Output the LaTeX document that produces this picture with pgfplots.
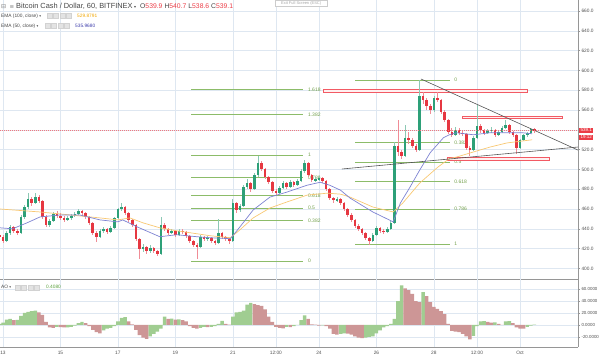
\documentclass[border=0pt]{standalone}
\usepackage{pgfplots}
\pgfplotsset{compat=1.18}
\usepackage{pgfplotstable}
\usepackage{fontspec}
\setmainfont{Liberation Sans}
\newfontfamily\sym{DejaVu Sans}
\definecolor{gridc}{RGB}{222,231,241}
\definecolor{axisc}{RGB}{150,150,150}
\definecolor{labc}{RGB}{80,80,80}
\definecolor{upb}{RGB}{45,160,120}
\definecolor{dnb}{RGB}{230,55,65}
\definecolor{upw}{RGB}{140,200,180}
\definecolor{dnw}{RGB}{240,140,150}
\definecolor{ema50}{RGB}{125,130,210}
\definecolor{ema100}{RGB}{248,200,115}
\definecolor{fibc}{RGB}{140,188,105}
\definecolor{fibt}{RGB}{115,160,75}
\definecolor{zone}{RGB}{242,90,100}
\definecolor{zonefill}{RGB}{255,240,240}
\definecolor{trend}{RGB}{85,85,85}
\definecolor{aog}{RGB}{160,205,145}
\definecolor{aor}{RGB}{205,150,150}
\definecolor{pricered}{RGB}{235,60,70}
\definecolor{txt}{RGB}{70,70,70}
\definecolor{emaot}{RGB}{240,165,0}
\definecolor{emabt}{RGB}{60,60,170}
\definecolor{aot}{RGB}{90,160,60}

\pgfplotstableread{
t o h l c
-3 434 436 430 432
0 432 434 426 428
3 428 438 427 436
6 436 444 434 442
9 442 443 436 438
12 438 440 434 436
15 436 454 435 452
18 452 464 450 462
21 462 476 460 470
24 470 472 463 466
27 466 476 465 472
30 472 474 466 468
33 468 469 450 452
36 452 454 442 444
39 444 450 442 448
42 448 457 447 455
45 455 458 451 453
48 453 456 449 451
51 451 453 447 449
54 449 453 448 451
57 451 455 449 453
60 453 457 452 455
63 455 460 454 458
66 458 459 453 456
69 456 457 450 452
72 452 453 444 446
75 446 447 434 436
78 436 438 427 432
81 432 440 431 438
84 438 442 436 440
87 440 441 435 437
90 437 443 436 441
93 441 452 440 451
96 451 461 450 460
99 460 466 458 462
102 462 463 454 456
105 456 457 447 449
108 449 450 442 444
111 444 445 428 430
114 430 431 410 420
117 420 425 417 422
120 422 423 415 418
123 418 424 416 421
126 421 422 416 418
129 418 419 413 415
132 415 452 414 444
135 444 446 438 440
138 440 441 434 436
141 436 440 435 438
144 438 439 432 434
147 434 440 433 438
150 438 440 435 437
153 437 438 431 433
156 433 434 426 428
159 428 429 422 424
162 424 426 410 422
165 422 434 421 432
168 432 433 428 430
171 430 433 428 431
174 431 432 426 428
177 428 429 424 426
180 426 450 425 436
183 436 437 430 432
186 432 433 428 430
189 430 431 425 428
192 428 470 427 466
195 466 467 456 459
198 459 465 457 463
201 463 484 462 482
204 482 490 480 486
207 486 487 477 480
210 480 496 479 494
213 494 514 492 506
216 506 508 498 500
219 500 501 490 492
222 492 493 485 487
225 487 488 476 478
228 478 480 474 476
231 476 483 475 481
234 481 488 480 486
237 486 487 480 482
240 482 489 481 487
243 487 488 482 484
246 484 490 483 488
249 488 500 487 498
252 498 510 496 506
255 506 507 492 494
258 494 495 487 489
261 489 492 487 490
264 490 493 488 491
267 491 492 486 488
270 488 489 478 480
273 480 481 469 471
276 471 472 466 469
279 469 472 467 470
282 470 471 464 466
285 466 467 458 460
288 460 461 452 454
291 454 456 447 449
294 449 450 441 443
297 443 445 438 440
300 440 441 434 436
303 436 437 429 431
306 431 432 424 428
309 428 436 427 434
312 434 443 433 441
315 441 442 436 438
318 438 440 435 437
321 437 442 436 440
324 440 448 439 446
327 446 528 445 524
330 524 550 514 518
333 518 520 510 514
336 514 545 513 532
339 532 538 526 530
342 530 532 522 524
345 524 526 518 520
348 520 590 519 574
351 574 578 566 570
354 570 572 560 564
357 564 566 556 560
360 560 574 558 572
363 572 578 568 570
366 570 571 556 558
369 558 560 548 550
372 550 551 536 538
375 538 542 533 535
378 535 543 534 540
381 540 542 535 537
384 537 540 534 536
387 536 537 520 522
390 522 524 514 520
393 520 534 519 532
396 532 565 531 544
399 544 546 537 540
402 540 541 535 537
405 537 541 536 539
408 539 543 537 540
411 540 541 533 535
414 535 540 534 538
417 538 544 537 542
420 542 550 541 545
423 545 546 536 538
426 538 539 533 535
429 535 536 516 522
432 522 531 521 530
435 530 536 529 535
438 535 538 533 537
441 537 542 536 541
444 541 542 537 539.1
}\candles

\pgfplotstableread{
t a g
-3 2 1
0 4 1
3 9 1
6 10 1
9 8 0
12 8.5 1
15 15 1
18 20 1
21 22 1
24 23 1
27 24 1
30 21 0
33 17 0
36 5 0
39 -4 0
42 -5 0
45 -3 1
48 -3.5 0
51 -4 0
54 -3.8 1
57 -3 1
60 -1 1
63 3 1
66 5 1
69 3 0
72 -2 0
75 -8 0
78 -12 0
81 -14 0
84 -9 1
87 -6 1
90 -5 1
93 -2 1
96 6 1
99 12 1
102 13 1
105 6 0
108 1 0
111 -8 0
114 -17 0
117 -21 0
120 -23 0
123 -19 1
126 -15 1
129 -11 1
132 -6 1
135 14 1
138 10 0
141 10.5 1
144 9 0
147 9.5 1
150 8 0
153 6 0
156 -2 0
159 -5 0
162 -6 0
165 -5 1
168 -3 1
171 -3.5 0
174 -3 1
177 -2 1
180 2 1
183 7 1
186 2 0
189 0.5 0
192 14 1
195 21 1
198 22 1
201 24 1
204 34 1
207 37 1
210 35 0
213 33 0
216 32 0
219 26 0
222 14 0
225 5 0
228 -3 0
231 -5 0
234 -5.5 0
237 -3 1
240 -3.5 0
243 -2 1
246 0 1
249 8 1
252 16 1
255 10 0
258 1 0
261 0.5 0
264 -1 0
267 -0.5 1
270 -2 0
273 -6 0
276 -15 0
279 -16 0
282 -15 1
285 -14 1
288 -14.5 0
291 -16 0
294 -19 0
297 -21 0
300 -22 0
303 -21 1
306 -20 1
309 -19 1
312 -14 1
315 -9 1
318 -4 1
321 -2 1
324 2 1
327 10 1
330 40 1
333 66 1
336 61 0
339 58 0
342 52 0
345 40 0
348 38 0
351 55 1
354 48 0
357 38 0
360 30 0
363 27 0
366 23 0
369 18 0
372 2 0
375 -10 0
378 -11 0
381 -12 0
384 -15 0
387 -19 0
390 -24 0
393 -18 1
396 -2 1
399 6 1
402 6.5 1
405 5 0
408 4 0
411 4.2 1
414 2 0
417 0 0
420 6 1
423 6.5 1
426 3 0
429 -4 0
432 -6 0
435 -6.2 0
438 -3 1
441 -1 1
444 0.4 1
}\aodata

\pgfplotstableread{
t p
-2.5 460
31 457
56 454
81 451
96 449
106 451
117 446
131 441
145 438
162 435
173 433
190 431
198 439
209 451
223 461
237 467
254 474
271 476
282 475
290 472
309 462
326 457
334 466
348 486
363 502
373 511
379 512.5
393 517.6
407 522.6
421 526.7
434 528.7
442 529.9
}\emaH

\pgfplotstableread{
t p
-2.5 441
8 440
20 446
31 452
48 454
64 454
81 449
96 447
100 449
112 442
131 432
145 434
162 432
173 431
190 430
198 442
209 459
223 472
237 477
254 484
265 487
273 484
282 479
290 471
309 457
326 447
332 466
340 482
348 499
357 517
368 532
373 535
379 537
393 535
407 537
421 537
434 537
442 536
}\emaF

\pgfplotsset{fibl/.style={fibc, line width=0.6pt, forget plot},
  zonel/.style={draw=zone, fill=zonefill, line width=0.6pt, forget plot},
  candle/.style={draw=none, mark=none, forget plot}}
\tikzset{fibn/.style={anchor=west, font=\fontsize{5}{6}\selectfont, text=fibt, inner sep=0.5pt},
  icon/.style={fill=gray!22, draw=gray!35, line width=0.3pt}}

\begin{document}
\begin{tikzpicture}[x=1pt,y=1pt]
\useasboundingbox (0,0) rectangle (600,358);

\begin{axis}[
  at={(0pt,79pt)}, anchor=south west, scale only axis,
  width=578pt, height=279pt,
  xmin=-2.5, xmax=480.4, ymin=389.3, ymax=671.1,
  axis x line*=bottom, axis y line*=right,
  axis line style={draw=axisc, line width=0.6pt, -},
  xtick={0,48,96,144,192,228,264,312,360,396,432}, xticklabels={},
  x tick style={draw=none},
  ytick={400,420,...,660},
  yticklabels={400.0,420.0,440.0,460.0,480.0,500.0,520.0,,560.0,580.0,600.0,620.0,640.0,660.0},
  y tick style={draw=axisc, line width=0.4pt},
  tick align=outside, major tick length=2pt,
  grid=major, grid style={draw=gridc, line width=0.5pt},
  yticklabel style={font=\fontsize{4.8}{6}\selectfont, text=labc, xshift=-2pt},
]
% left Fibonacci retracement
\addplot[fibl] coordinates {(157.1,407.5) (250.6,407.5)};
\addplot[fibl] coordinates {(157.1,448.4) (250.6,448.4)};
\addplot[fibl] coordinates {(157.1,461.0) (250.6,461.0)};
\addplot[fibl] coordinates {(157.1,473.6) (250.6,473.6)};
\addplot[fibl] coordinates {(157.1,491.6) (250.6,491.6)};
\addplot[fibl] coordinates {(157.1,514.5) (250.6,514.5)};
\addplot[fibl] coordinates {(157.1,555.4) (250.6,555.4)};
\addplot[fibl] coordinates {(157.1,580.6) (250.6,580.6)};
\node[fibn] at (axis cs:254.3,407.5) {0};
\node[fibn] at (axis cs:254.3,448.4) {0.382};
\node[fibn] at (axis cs:254.3,461.0) {0.5};
\node[fibn] at (axis cs:254.3,473.6) {0.618};
\node[fibn] at (axis cs:254.3,491.6) {0.786};
\node[fibn] at (axis cs:254.3,514.5) {1};
\node[fibn] at (axis cs:254.3,555.4) {1.382};
\node[fibn] at (axis cs:254.3,580.6) {1.618};
% right Fibonacci retracement
\addplot[fibl] coordinates {(294.1,590.3) (373.4,590.3)};
\addplot[fibl] coordinates {(294.1,527.0) (373.4,527.0)};
\addplot[fibl] coordinates {(294.1,507.5) (373.4,507.5)};
\addplot[fibl] coordinates {(294.1,487.9) (373.4,487.9)};
\addplot[fibl] coordinates {(294.1,460.1) (373.4,460.1)};
\addplot[fibl] coordinates {(294.1,424.6) (373.4,424.6)};
\node[fibn] at (axis cs:376.5,590.3) {0};
\node[fibn] at (axis cs:376.5,527.0) {0.382};
\node[fibn] at (axis cs:376.5,507.5) {0.5};
\node[fibn] at (axis cs:376.5,487.9) {0.618};
\node[fibn] at (axis cs:376.5,460.1) {0.786};
\node[fibn] at (axis cs:376.5,424.6) {1};
% zones
\addplot[zonel] coordinates {(267.3,577.9) (437.8,577.9) (437.8,580.9) (267.3,580.9)} -- cycle;
\addplot[zonel] coordinates {(383.5,551.2) (467.6,551.2) (467.6,554.0) (383.5,554.0)} -- cycle;
\addplot[zonel] coordinates {(371.0,509.5) (456.1,509.5) (456.1,512.6) (371.0,512.6)} -- cycle;
% candles: wicks
\addplot[candle,
  restrict expr to domain={\thisrow{c}-\thisrow{o}}{0:1000},
  error bars/.cd, y dir=both, y explicit, error mark=none,
  error bar style={draw=upw, line width=0.7pt}]
  table[x=t, y expr={(\thisrow{h}+\thisrow{l})/2}, y error expr={(\thisrow{h}-\thisrow{l})/2}]{\candles};
\addplot[candle,
  restrict expr to domain={\thisrow{c}-\thisrow{o}}{-1000:0},
  error bars/.cd, y dir=both, y explicit, error mark=none,
  error bar style={draw=dnw, line width=0.7pt}]
  table[x=t, y expr={(\thisrow{h}+\thisrow{l})/2}, y error expr={(\thisrow{h}-\thisrow{l})/2}]{\candles};
% candles: bodies
\addplot[candle,
  restrict expr to domain={\thisrow{c}-\thisrow{o}}{0:1000},
  error bars/.cd, y dir=both, y explicit, error mark=none,
  error bar style={draw=upb, line width=2.6pt}]
  table[x=t, y expr={(\thisrow{o}+\thisrow{c})/2}, y error expr={abs(\thisrow{c}-\thisrow{o})/2}]{\candles};
\addplot[candle,
  restrict expr to domain={\thisrow{c}-\thisrow{o}}{-1000:0},
  error bars/.cd, y dir=both, y explicit, error mark=none,
  error bar style={draw=dnb, line width=2.6pt}]
  table[x=t, y expr={(\thisrow{o}+\thisrow{c})/2}, y error expr={abs(\thisrow{c}-\thisrow{o})/2}]{\candles};
% EMAs
\addplot[ema100, line width=0.7pt] table[x=t, y=p]{\emaH};
\addplot[ema50, line width=0.7pt] table[x=t, y=p]{\emaF};
% trend lines
\addplot[trend, line width=0.6pt] coordinates {(349.2,591.3) (480.4,519.5)};
\addplot[trend, line width=0.6pt] coordinates {(283.2,500.4) (480.4,522.6)};
% last price line
\addplot[pricered!70, line width=0.5pt, dash pattern=on 1pt off 1pt] coordinates {(-2.5,539.1) (480.4,539.1)};
\end{axis}

\begin{axis}[
  at={(0pt,11pt)}, anchor=south west, scale only axis,
  width=578pt, height=68pt,
  xmin=-2.5, xmax=480.4, ymin=-36.7, ymax=76.7,
  axis x line*=bottom, axis y line*=right,
  axis line style={draw=axisc, line width=0.6pt, -},
  xtick={0,48,96,144,192,228,264,312,360,396,432},
  xticklabels={13,15,17,19,21,12:00,24,26,28,12:00,Oct},
  x tick style={draw=none},
  xticklabel style={font=\fontsize{4.8}{6}\selectfont, text=labc, yshift=1pt},
  ytick={-20,0,20,40,60},
  yticklabels={-20.0000,0.0000,20.0000,40.0000,60.0000},
  y tick style={draw=axisc, line width=0.4pt},
  tick align=outside, major tick length=2pt,
  grid=major, grid style={draw=gridc, line width=0.5pt},
  yticklabel style={font=\fontsize{4.4}{5}\selectfont, text=labc, xshift=-2pt},
]
\addplot[ybar, bar width=2.9, bar shift=0pt, fill=aog, draw=none,
  restrict expr to domain={\thisrow{g}}{0.5:1.5}] table[x=t, y=a]{\aodata};
\addplot[ybar, bar width=2.9, bar shift=0pt, fill=aor, draw=none,
  restrict expr to domain={\thisrow{g}}{-0.5:0.5}] table[x=t, y=a]{\aodata};
\end{axis}

% top toolbar hint
\node[anchor=south west, draw=gray!40, fill=white, text=gray!70, font=\fontsize{4}{5}\selectfont, inner xsep=3pt, inner ysep=0.8pt, minimum width=52pt] at (275,352) {Exit Full Screen (ESC)};
% header
\node[anchor=base west, inner sep=0, font=\sym\fontsize{6}{7}\selectfont, text=gray] at (1,349) {⊟};
\node[anchor=base west, inner sep=0, font=\sym\fontsize{5.5}{7}\selectfont, text=gray] at (9.5,349.3) {≡};
\node[anchor=base west, inner sep=0, font=\fontsize{7.4}{9}\selectfont, text=txt] at (16,349)
  {Bitcoin Cash / Dollar, 60, BITFINEX\hspace{1.5pt}{\sym\fontsize{4}{5}\selectfont ▾}};
\node[anchor=base west, inner sep=0, font=\fontsize{6.8}{8}\selectfont, text=txt] at (140,349)
  {O{\color{pricered}539.9}\hspace{2pt}H{\color{pricered}540.7}\hspace{2pt}L{\color{pricered}538.6}\hspace{2pt}C{\color{pricered}539.1}};
\node[anchor=base west, inner sep=0, font=\fontsize{4.8}{6}\selectfont, text=txt] at (1,340.5)
  {EMA (100, close) {\sym\fontsize{3.5}{4}\selectfont ▾}};
\foreach \i in {0,1,2,3} {\path[icon] (47+\i*6.5,339.5) rectangle ++(5,5);}
\node[anchor=base west, inner sep=0, font=\fontsize{4.8}{6}\selectfont, text=emaot] at (77,340.5) {529.8791};
\node[anchor=base west, inner sep=0, font=\fontsize{4.8}{6}\selectfont, text=txt] at (1,330.5)
  {EMA (50, close) {\sym\fontsize{3.5}{4}\selectfont ▾}};
\foreach \i in {0,1,2,3} {\path[icon] (45+\i*6.5,329.5) rectangle ++(5,5);}
\node[anchor=base west, inner sep=0, font=\fontsize{4.8}{6}\selectfont, text=emabt] at (75,330.5) {535.9680};
% AO label
\node[anchor=base west, inner sep=0, font=\fontsize{4.8}{6}\selectfont, text=txt] at (1,69.3)
  {AO {\sym\fontsize{3.5}{4}\selectfont ▾}};
\foreach \i in {0,1,2,3} {\path[icon] (15+\i*6.5,68.3) rectangle ++(5,5);}
\node[anchor=base west, inner sep=0, font=\fontsize{4.8}{6}\selectfont, text=aot] at (46,69.3) {0.4080};
% last price labels
\node[anchor=west, fill=pricered, text=white, inner xsep=1.5pt, inner ysep=0.8pt, font=\fontsize{4.5}{5}\selectfont] at (579,227.8) {539.1};
\node[anchor=west, fill=pricered, text=white, inner xsep=1.5pt, inner ysep=0.8pt, font=\fontsize{4.5}{5}\selectfont] at (579,220.6) {19:12};
\end{tikzpicture}
\end{document}
